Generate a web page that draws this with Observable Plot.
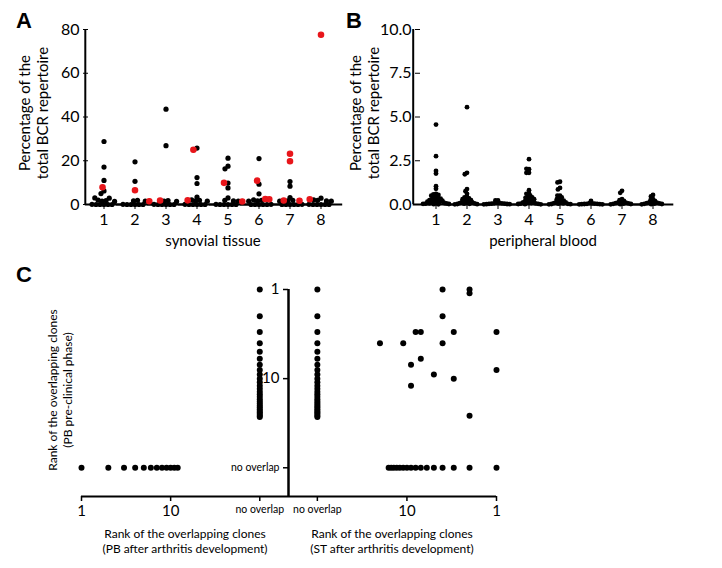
<!DOCTYPE html>
<html><head><meta charset="utf-8">
<script src="https://cdn.jsdelivr.net/npm/d3@7"></script>
<script src="https://cdn.jsdelivr.net/npm/@observablehq/plot@0.6"></script>
<style>
body{margin:0;background:#fff;}
#wrap{position:relative;width:722px;height:568px;overflow:hidden;font-family:Lato,"Open Sans",sans-serif;color:#000;background:#fff}
.p{position:absolute}
.letter{position:absolute;font:bold 22px Arial,"Liberation Sans",sans-serif;line-height:22px}
.rt{position:absolute;transform:translate(-50%,-50%) rotate(-90deg);text-align:center;white-space:nowrap}
.ct{position:absolute;transform:translate(-50%,-50%);text-align:center;white-space:nowrap}
</style></head>
<body><div id="wrap">
<div class="p" id="pA" style="left:0;top:0"></div>
<div class="p" id="pB" style="left:330px;top:0"></div>
<div class="p" id="pCL" style="left:0;top:270px"></div>
<div class="p" id="pCR" style="left:200px;top:270px"></div>
<div class="letter" style="left:16px;top:10px">A</div>
<div class="letter" style="left:346px;top:10px">B</div>
<div class="letter" style="left:16px;top:264px">C</div>
<div class="rt" style="left:33px;top:113px;font-size:15px;line-height:18px">Percentage of the<br>total BCR repertoire</div>
<div class="rt" style="left:364px;top:113px;font-size:15px;line-height:18px">Percentage of the<br>total BCR repertoire</div>
<div class="ct" style="left:213px;top:240px;font-size:15px">synovial tissue</div>
<div class="ct" style="left:543px;top:240px;font-size:15px">peripheral blood</div>
<div class="rt" style="left:60px;top:390px;font-size:12px;line-height:15px">Rank of the overlapping clones<br>(PB pre-clinical phase)</div>
<div class="ct" style="left:185px;top:541px;font-size:12px;line-height:15px">Rank of the overlapping clones<br>(PB after arthritis development)</div>
<div class="ct" style="left:392px;top:541px;font-size:12px;line-height:15px">Rank of the overlapping clones<br>(ST after arthritis development)</div>
</div>
<script>
const RED = "#e8161b";
const groups = [1, 2, 3, 4, 5, 6, 7, 8];

// Panel A: synovial tissue (% of total BCR repertoire), per patient
const stBlack = [
  [28.8, 17.1, 11.0, 6.2, 5.0, 0, 0, 0, 0, 0, 0.1, 1.4, 1.6, 1.8, 2.0, 2.9, 3.0],
  [19.5, 10.6, 0, 0, 0, 0, 0, 0.1, 1.5, 1.7, 1.9],
  [43.6, 26.9, 0, 0, 0, 0, 0, 0.1, 1.4, 1.6, 1.8],
  [25.8, 12.3, 9.6, 3.4, 0, 0, 0, 0, 0, 0.1, 1.5, 1.7, 1.9, 2.1],
  [21.2, 17.5, 16.3, 9.8, 7.6, 3.0, 0, 0, 0, 0, 0, 0.1, 1.5, 1.7, 1.9],
  [21.0, 9.3, 4.9, 0, 0, 0, 0, 0, 0.1, 1.5, 1.7, 1.9, 2.1],
  [10.5, 8.4, 3.2, 0, 0, 0, 0, 0, 0.1, 1.5, 1.7, 1.9],
  [2.9, 0, 0, 0, 0, 0, 0.1, 1.5, 1.7, 1.9, 2.1]
];
const stRed = [
  [7.9],
  [6.5, 1.5],
  [1.8],
  [25.0, 1.9],
  [9.9, 1.4],
  [10.9, 2.5, 2.4],
  [23.2, 19.8, 1.8, 1.7],
  [77.6, 2.4]
];

// Panel B: peripheral blood
const pbValues = [
  [4.57, 2.76, 1.92, 1.77, 1.05, 0.90, 0.6, 0.58, 0.55, 0.5, 0.45, 0.4, 0.36, 0.33, 0.3, 0.28, 0.25, 0.22, 0.2, 0.18, 0.16, 0.14, 0.12, 0.1, 0.08, 0.07, 0.06, 0.05, 0.04, 0.03, 0.02, 0.01],
  [5.56, 1.81, 1.73, 0.88, 0.76, 0.61, 0.44, 0.4, 0.35, 0.3, 0.28, 0.25, 0.2, 0.18, 0.15, 0.12, 0.1, 0.08, 0.06, 0.05, 0.04, 0.03, 0.02, 0.01],
  [0.23, 0.23, 0.1, 0.08, 0.07, 0.06, 0.05, 0.05, 0.04, 0.03, 0.02, 0.02, 0.01],
  [2.59, 2.02, 2.04, 1.81, 1.81, 0.82, 0.63, 0.61, 0.5, 0.45, 0.4, 0.38, 0.35, 0.3, 0.28, 0.25, 0.2, 0.18, 0.15, 0.12, 0.1, 0.08, 0.06, 0.05, 0.04, 0.03, 0.02, 0.01],
  [1.30, 1.26, 0.95, 0.86, 0.51, 0.51, 0.4, 0.35, 0.3, 0.25, 0.22, 0.2, 0.15, 0.12, 0.1, 0.08, 0.06, 0.05, 0.04, 0.03, 0.02, 0.01],
  [0.2, 0.08, 0.06, 0.05, 0.04, 0.04, 0.03, 0.02, 0.02, 0.01, 0.01],
  [0.78, 0.67, 0.3, 0.25, 0.2, 0.15, 0.12, 0.1, 0.08, 0.06, 0.05, 0.04, 0.03, 0.02, 0.01],
  [0.55, 0.46, 0.3, 0.25, 0.2, 0.15, 0.12, 0.1, 0.08, 0.06, 0.05, 0.04, 0.03, 0.02, 0.01]
];
const ticksA = [0, 20, 40, 60, 80];
const ticksB = [0, 2.5, 5, 7.5, 10];

// Panel C: ranks of overlapping clones (100 = "no overlap")
const NO_OVERLAP = 100;
const pbPreOnlyRanks = [1,2,3,4,5,6,7,8,9,10,11,12,13,14,15,16,17,18,19,20,21,22,23,24,25,26,27];
const pbAfterOnlyRanks = [1,2,3,4,5,6,7,8,9,10,11,12];
const pbPreNotInSTRanks = [1,2,3,4,5,6,7,8,9,10,11,12,13,14,15,16,17,18,19,20,21,22,23,24,25,26,27];
const stOnlyRanks = [1,2,3,4,5,6,7,8,9,10,11,12,13,14,15,16];
const sharedST = [20, 11, 8, 7, 7, 9, 5, 9, 4, 4, 4, 3, 3, 2, 2, 2, 1, 1];
const sharedPB = [4, 4, 3, 3, 6, 7, 9, 12, 1, 2, 4, 3, 10, 1, 1.1, 26, 3, 8];
const rankTicks = [1, 10];

// ---------- build tables ----------
const rowsA = [];
groups.forEach((g, i) => stBlack[i].forEach(v => rowsA.push({g, v, fill: "black", sw: 0})));
groups.forEach((g, i) => stRed[i].forEach(v => rowsA.push({g, v, fill: RED, sw: 1.4})));
const rowsB = [];
groups.forEach((g, i) => pbValues[i].forEach(v => rowsB.push({g, v, fill: "black", sw: 0})));

const FONT = "Lato, 'Open Sans', sans-serif";

function dotPanel({rows, yDomain, yTicks, yFormat, marginLeft, outerAlign, outer, insL, insR, dotR, layoutR}) {
  return Plot.plot({
    width: 360, height: 232,
    marginLeft, marginRight: 15, marginTop: 29, marginBottom: 28,
    style: {fontFamily: FONT, fontSize: "16px", background: "transparent", overflow: "visible"},
    x: {domain: [0, 1], axis: null},
    y: {domain: yDomain, ticks: yTicks, tickFormat: yFormat, tickSize: 5, label: null},
    fx: {domain: groups, paddingInner: 0, paddingOuter: outer, align: outerAlign, label: null, tickSize: 5, axis: "bottom"},
    marks: [
      Plot.ruleY([yDomain[0]], {strokeWidth: 2, insetLeft: -insL, insetRight: -insR}),
      Plot.ruleX([1], {fx: d => d, x: () => 0, y1: () => yDomain[0], y2: () => yDomain[1], dx: -insL, strokeWidth: 2}),
      Plot.dot(rows, Plot.dodgeX({anchor: "middle", padding: 0, r: layoutR},
        {fx: "g", y: "v", r: dotR, fill: "fill", stroke: "fill", strokeWidth: "sw", sort: null}))
    ]
  });
}

document.getElementById("pA").append(dotPanel({
  rows: rowsA, yDomain: [0, 80], yTicks: ticksA, yFormat: d => String(d),
  marginLeft: 83, outer: 0.15, outerAlign: 0.34, insL: 3.2, insR: 6.2, dotR: 2.6, layoutR: 2.0
}));

document.getElementById("pB").append(dotPanel({
  rows: rowsB, yDomain: [0, 10], yTicks: ticksB, yFormat: d3.format(".1f"),
  marginLeft: 81, outer: 0.2, outerAlign: 0.58, insL: 7.3, insR: 5.3, dotR: 2.4, layoutR: 1.3
}));

// ---------- Panel C ----------
const ptsL = [
  ...pbPreOnlyRanks.map(y => ({x: NO_OVERLAP, y})),
  ...pbAfterOnlyRanks.map(x => ({x, y: NO_OVERLAP}))
];
const ptsR = [
  ...pbPreNotInSTRanks.map(y => ({x: NO_OVERLAP, y})),
  ...stOnlyRanks.map(x => ({x, y: NO_OVERLAP})),
  ...sharedST.map((x, i) => ({x, y: sharedPB[i]}))
];
const cStyle = {fontFamily: FONT, fontSize: "15px", background: "transparent", overflow: "visible"};

document.getElementById("pCL").append(Plot.plot({
  width: 300, height: 262, marginLeft: 81, marginRight: 12, marginTop: 19, marginBottom: 36,
  style: cStyle,
  x: {type: "log", domain: [1, 210]},
  y: {type: "log", domain: [1, 210], reverse: true, axis: null},
  marks: [
    Plot.ruleY([210], {strokeWidth: 2}),
    Plot.ruleX([210], {strokeWidth: 2}),
    Plot.axisX({ticks: rankTicks, tickFormat: d => String(d), tickSize: 5, strokeWidth: 1.5, fontSize: 15, label: null}),
    Plot.axisX({ticks: [NO_OVERLAP], tickFormat: () => "no overlap", tickSize: 5, strokeWidth: 1.5, fontSize: 10.5, label: null}),
    Plot.dot(ptsL, {x: "x", y: "y", r: 3, fill: "black"})
  ]
}));

document.getElementById("pCR").append(Plot.plot({
  width: 310, height: 262, marginLeft: 88, marginRight: 14, marginTop: 19, marginBottom: 36,
  style: cStyle,
  x: {type: "log", domain: [1, 210], reverse: true},
  y: {type: "log", domain: [1, 210], reverse: true},
  marks: [
    Plot.ruleY([210], {strokeWidth: 2}),
    Plot.ruleX([210], {strokeWidth: 2}),
    Plot.axisX({ticks: rankTicks, tickFormat: d => String(d), tickSize: 5, strokeWidth: 1.5, fontSize: 15, label: null}),
    Plot.axisX({ticks: [NO_OVERLAP], tickFormat: () => "no overlap", tickSize: 5, strokeWidth: 1.5, fontSize: 10.5, label: null}),
    Plot.axisY({ticks: rankTicks, tickFormat: d => String(d), tickSize: 5, strokeWidth: 1.5, fontSize: 15, label: null}),
    Plot.axisY({ticks: [NO_OVERLAP], tickFormat: () => "no overlap", tickSize: 5, strokeWidth: 1.5, fontSize: 10.5, label: null}),
    Plot.dot(ptsR, {x: "x", y: "y", r: 3, fill: "black"})
  ]
}));
</script>
</body></html>
